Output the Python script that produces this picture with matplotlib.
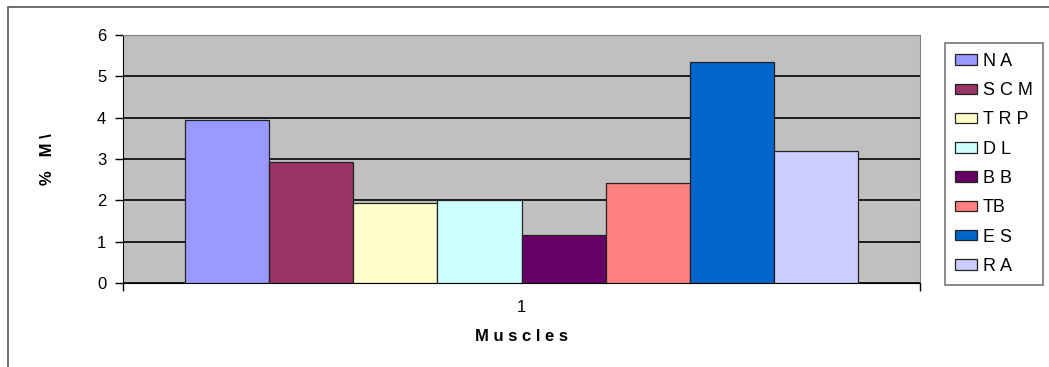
import matplotlib.pyplot as plt
from matplotlib.patches import Rectangle

plt.rcParams['font.family'] = ['Liberation Sans', 'DejaVu Sans']

muscles = ["N A", "S C M", "T R P", "D L", "B B", "TB", "E S", "R A"]
values = [3.95, 2.93, 1.93, 2.01, 1.16, 2.42, 5.35, 3.2]
colors = ["#9999FF", "#993366", "#FFFFCC", "#CCFFFF", "#660066", "#FF8080", "#0066CC", "#CCCCFF"]
yticks = [0, 1, 2, 3, 4, 5, 6]

fig = plt.figure(figsize=(10.49, 3.67), dpi=100)
W, H = 1049, 367
ax = fig.add_axes([123 / W, 1 - 283 / H, (920 - 123) / W, (283 - 35) / H])
ax.set_facecolor("#C0C0C0")

w = 0.1054
for i, (name, v, c) in enumerate(zip(muscles, values, colors)):
    ax.bar(0.5 + (i - 3.5) * w, v, width=w, color=c, edgecolor="#222222",
           linewidth=0.9, label=name, zorder=3)

ax.set_xlim(0, 1)
ax.set_ylim(0, 6)
ax.set_yticks(yticks)
ax.yaxis.grid(True, color="black", linewidth=1.2, zorder=1)
ax.set_axisbelow(True)
ax.set_xticks([0.5])
ax.set_xticklabels(["1"])
ax.set_xticks([0, 1], minor=True)
ax.tick_params(axis="x", which="major", length=0, pad=12, labelsize=12)
ax.tick_params(axis="x", which="minor", direction="out", length=6, width=1)
ax.tick_params(axis="y", direction="out", length=6, width=1, labelsize=12, pad=6)

for s in ["top", "right"]:
    ax.spines[s].set_color("#808080")
ax.spines["left"].set_color("black")
ax.spines["bottom"].set_color("black")

ax.set_xlabel("M u s c l e s", fontsize=12, fontweight="bold", labelpad=10)
ax.set_ylabel("%   M \\", fontsize=12, fontweight="bold", labelpad=30)

leg = ax.legend(loc="upper left", bbox_to_anchor=(945 / W, 1 - 43 / H),
                bbox_transform=fig.transFigure, frameon=True, fancybox=False,
                fontsize=13, labelspacing=0.68, handlelength=1.2, handleheight=0.5,
                handletextpad=0.35, borderpad=0.55, borderaxespad=0)
leg.get_frame().set_edgecolor("#555555")
leg.get_frame().set_linewidth(1.2)

# outer chart border
fig.patches.append(Rectangle((8 / W, -0.2), 1.2, 1.2 - 7 / H, transform=fig.transFigure,
                             fill=False, edgecolor="#555555", linewidth=1.2))

fig.savefig("out.png", dpi=100)
